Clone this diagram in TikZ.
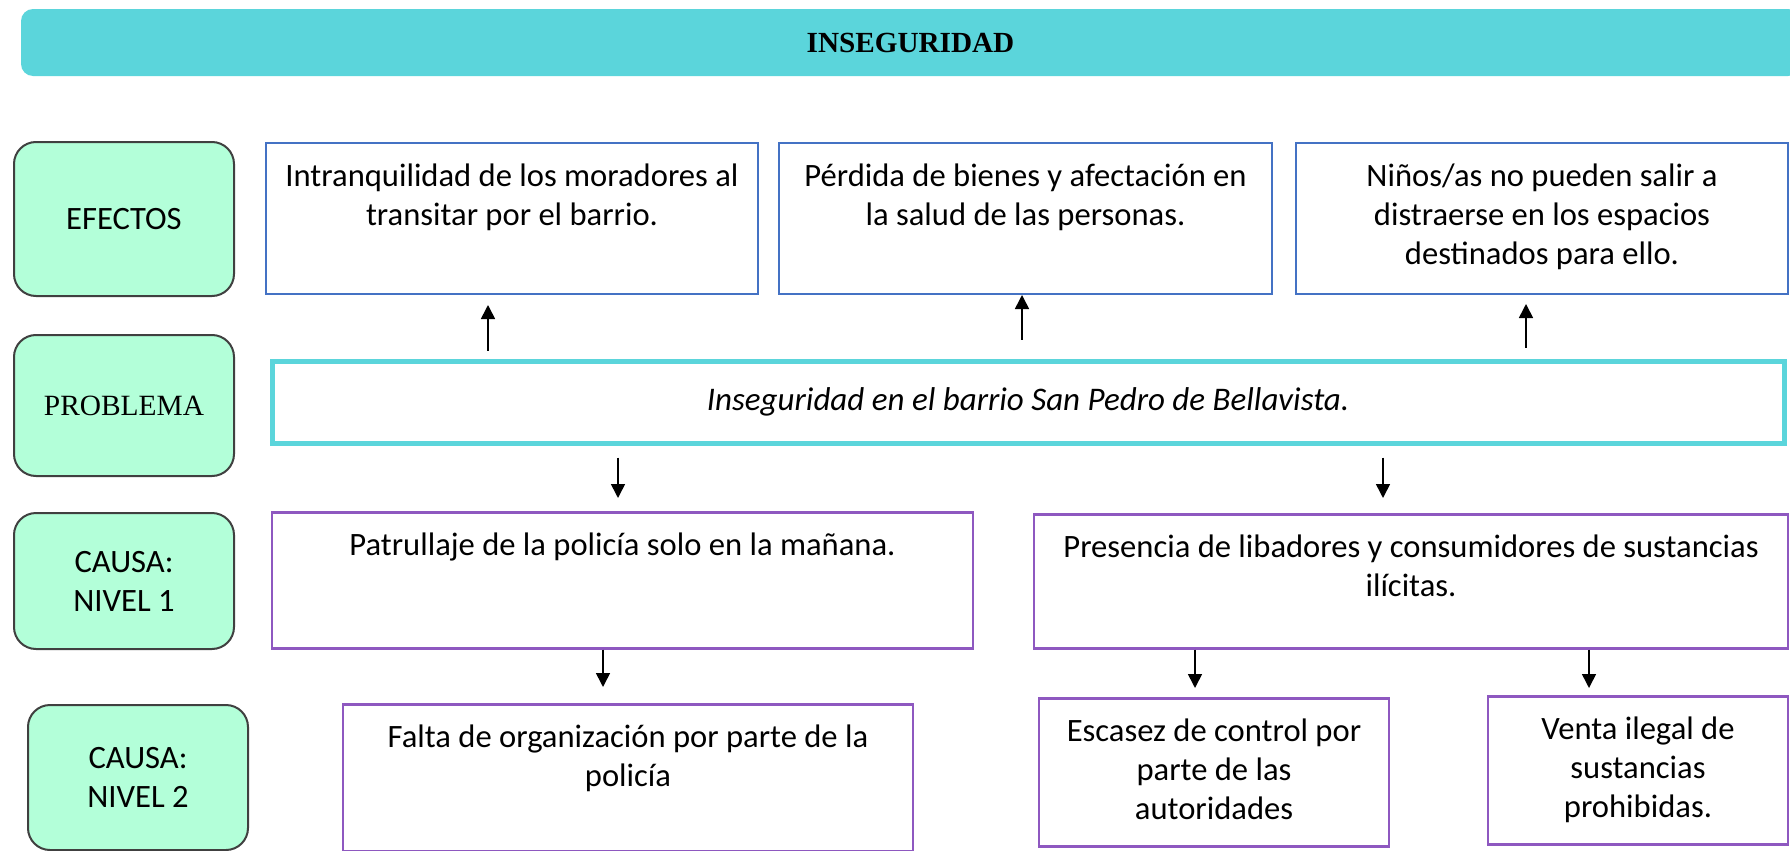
\documentclass[tikz,border=0pt]{standalone}
\usepackage{fontspec}
\setmainfont{Carlito}
\newfontfamily\headfont{Liberation Serif}
\definecolor{bannercyan}{RGB}{91,213,219}
\definecolor{labelmint}{RGB}{179,255,217}
\definecolor{labelgray}{RGB}{64,64,64}
\definecolor{effblue}{RGB}{68,114,196}
\definecolor{causepurple}{RGB}{142,88,192}
\newcommand{\toplines}[1]{\begin{tabular}[t]{@{}c@{}}#1\end{tabular}}
\usetikzlibrary{arrows.meta,positioning,calc}

\begin{document}
\begin{tikzpicture}[x=0.5pt,y=-0.5pt,
    labelbox/.style={draw=labelgray, line width=1pt, fill=labelmint, rounded corners=11pt, minimum width=110pt, align=center, inner sep=0pt, font=\fontsize{16.3}{19.5}\selectfont},
    topbox/.style={draw, anchor=north, inner xsep=4pt, inner ysep=9pt, text height=12.5pt, font=\fontsize{16.3}{19.5}\selectfont},
    effbox/.style={topbox, draw=effblue, line width=1pt},
    causebox/.style={topbox, draw=causepurple, line width=1.3pt},
    arr/.style={-{Triangle[width=7pt,length=7pt]}, line width=0.8pt}]
    \useasboundingbox (0,0) rectangle (1790,851);

    % Title banner
    \node[fill=bannercyan, rounded corners=6pt, minimum width=889.5pt, minimum height=33.5pt, font=\headfont\bfseries\fontsize{14.6}{17}\selectfont] (title) at (910.5,42.5) {INSEGURIDAD};

    % Row labels
    \node[labelbox, minimum height=77pt] (lefectos) at (124,219) {EFECTOS};
    \node[labelbox, minimum height=70.5pt, font=\headfont\fontsize{14.7}{18}\selectfont] (lproblema) at (124,405.5) {PROBLEMA};
    \node[labelbox, minimum height=68pt] (lcausa1) at (124,581) {CAUSA:\\NIVEL 1};
    \node[labelbox, minimum height=72.5pt] (lcausa2) at (138,777.5) {CAUSA:\\NIVEL 2};

    % Effects
    \node[effbox, minimum width=246pt, text depth=45pt] (ef1) at (512,142) {\toplines{Intranquilidad de los moradores al\\transitar por el barrio.}};
    \node[effbox, minimum width=246.5pt, text depth=45pt] (ef2) at (1025.5,142) {\toplines{Pérdida de bienes y afectación en\\la salud de las personas.}};
    \node[effbox, minimum width=246pt, text depth=45pt] (ef3) at (1542,142) {\toplines{Niños/as no pueden salir a\\distraerse en los espacios\\destinados para ello.}};

    % Problem
    \node[draw=bannercyan, line width=2.5pt, minimum width=756pt, minimum height=41pt, font=\itshape\fontsize{16.5}{19.5}\selectfont] (prob) at (1028,402) {Inseguridad en el barrio San Pedro de Bellavista.};

    % Causes, level 1
    \node[causebox, minimum width=350.5pt, text depth=37.5pt] (c1) at (622.5,511) {\toplines{Patrullaje de la policía solo en la mañana.}};
    \node[causebox, minimum width=377pt, text depth=36.5pt] (c2) at (1411,513) {\toplines{Presencia de libadores y consumidores de sustancias\\ilícitas.}};

    % Causes, level 2
    \node[causebox, minimum width=285pt, text depth=43pt] (f1) at (628,703) {\toplines{Falta de organización por parte de la\\policía}};
    \node[causebox, minimum width=175pt, text depth=43.5pt] (f2) at (1214,697) {\toplines{Escasez de control por\\parte de las\\autoridades}};
    \node[causebox, minimum width=150pt, text depth=43.5pt] (f3) at (1638,695) {\toplines{Venta ilegal de\\sustancias\\prohibidas.}};

    % Arrows up to the effects
    \foreach \t/\x/\s/\e in {ef1/488/4/5, ef2/1022/9.5/0, ef3/1526/5.5/4.5} {
        \coordinate (up\t) at (\x,0);
        \draw[arr] ([yshift=\s pt]prob.north -| up\t) -- ([yshift=-\e pt]\t.south -| up\t);
    }

    % Arrows down to the causes
    \foreach \f/\t/\x/\s/\e in {prob/c1/618/6/6.5, prob/c2/1383/6/7.5, c1/f1/603/0/8, c2/f2/1195/0/4.5, c2/f3/1589/0/3.5} {
        \coordinate (dn\t) at (\x,0);
        \draw[arr] ([yshift=-\s pt]\f.south -| dn\t) -- ([yshift=\e pt]\t.north -| dn\t);
    }
\end{tikzpicture}
\end{document}
